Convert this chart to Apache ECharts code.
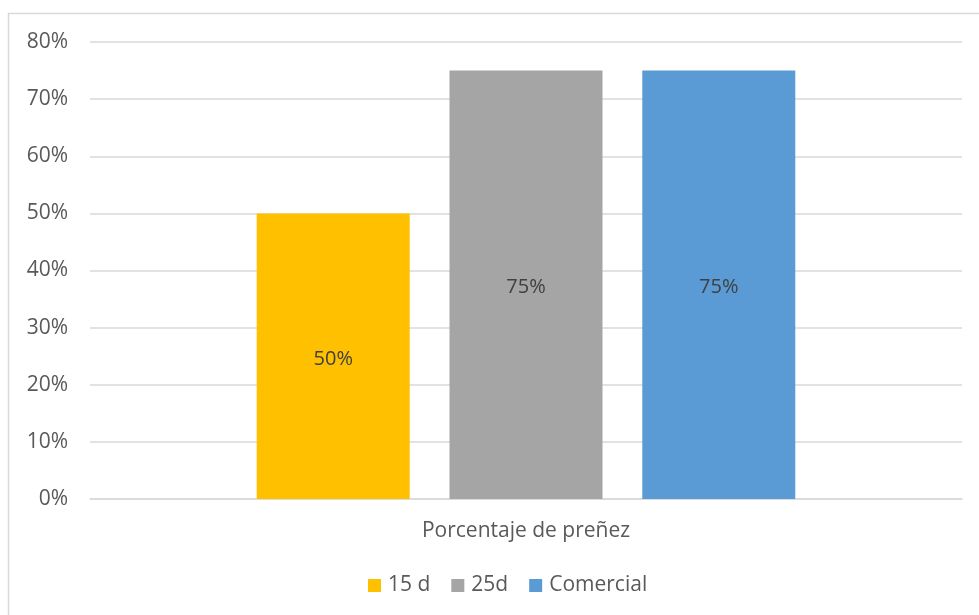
<!DOCTYPE html>
<html><head><meta charset="utf-8">
<script src="https://cdn.jsdelivr.net/npm/echarts@6/dist/echarts.min.js"></script>
<style>html,body{margin:0;padding:0;background:#fff}#c{width:979px;height:615px}</style>
</head><body><div id="c"></div>
<script>
const categories = ['Porcentaje de preñez'];
const seriesNames = ['15 d', '25d', 'Comercial'];
const values15d = [50];
const values25d = [75];
const valuesComercial = [75];
const colors = ['#FFC000', '#A5A5A5', '#5B9BD5'];
const yTicks = [0, 10, 20, 30, 40, 50, 60, 70, 80];

const font = 'Open Sans, Liberation Sans, sans-serif';
const chart = echarts.init(document.getElementById('c'));
const data = [values15d, values25d, valuesComercial];
chart.setOption({
  animation: false,
  graphic: [{type: 'rect', shape: {x: 8.5, y: 13.5, width: 1000, height: 700}, style: {fill: 'none', stroke: '#d9d9d9', lineWidth: 1.5}, silent: true}],
  grid: {left: 90, right: 17, top: 42, bottom: 116},
  legend: {bottom: 14, left: 363, itemWidth: 13, itemHeight: 13, itemGap: 21,
    icon: 'rect', textStyle: {color: '#595959', fontSize: 21, fontFamily: font, padding: [0, 0, 0, 2]}, data: seriesNames},
  xAxis: {type: 'category', data: categories,
    axisLine: {show: true, lineStyle: {color: '#d9d9d9', width: 1.5}}, axisTick: {show: false},
    axisLabel: {color: '#595959', fontSize: 21, fontFamily: font, margin: 22}},
  yAxis: {type: 'value', min: yTicks[0], max: yTicks[yTicks.length - 1], interval: 10,
    axisLine: {show: false}, axisTick: {show: false},
    splitLine: {lineStyle: {color: '#d9d9d9', width: 1.5}},
    axisLabel: {color: '#595959', fontSize: 21, fontFamily: font, margin: 22, formatter: v => v + '%'}},
  series: seriesNames.map((n, i) => ({
    name: n, type: 'bar', data: data[i], barWidth: 153, barGap: '26%',
    itemStyle: {color: colors[i]},
    label: {show: true, position: 'inside', color: '#404040', fontSize: 20, fontFamily: font, offset: [0, 3], formatter: p => p.value + '%'}
  }))
});
</script></body></html>
